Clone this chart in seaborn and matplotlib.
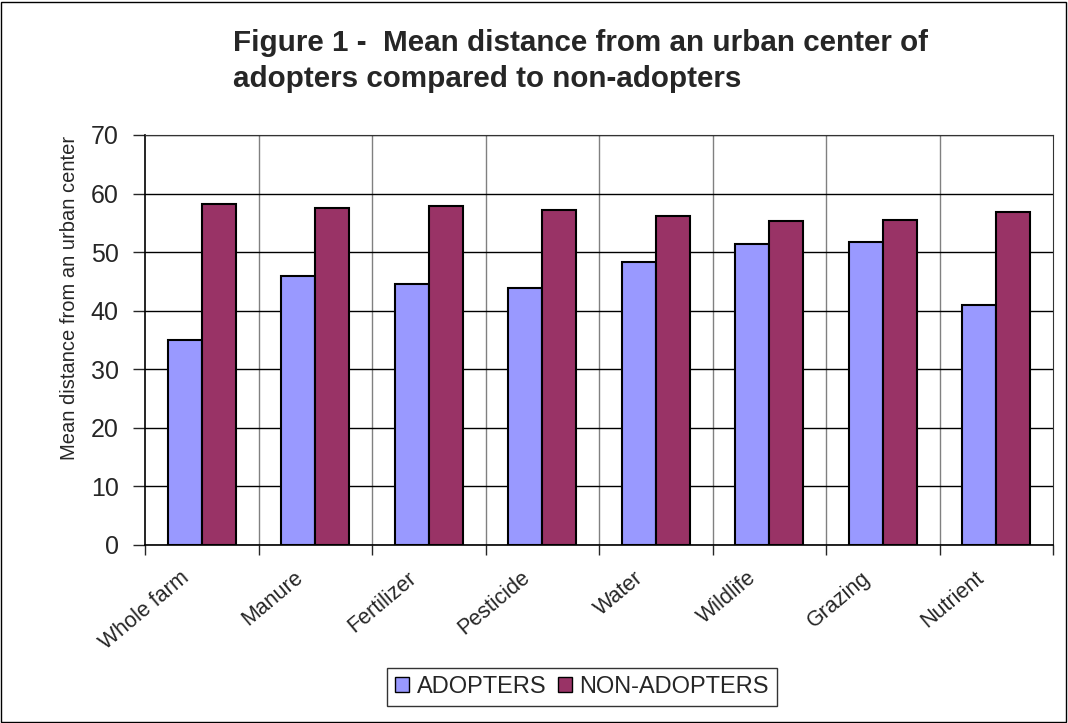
import pandas as pd
import numpy as np
import matplotlib.pyplot as plt
import seaborn as sns
from matplotlib.patches import Rectangle
import matplotlib.transforms as mtransforms

# Datos
categorias = ['Whole farm', 'Manure', 'Fertilizer', 'Pesticide', 'Water', 'Wildlife', 'Grazing', 'Nutrient']
adopters = [35.0, 46.0, 44.6, 43.9, 48.4, 51.4, 51.8, 40.9]
non_adopters = [58.3, 57.6, 57.9, 57.25, 56.2, 55.3, 55.5, 56.9]
series = ['ADOPTERS', 'NON-ADOPTERS']
colores = ['#9999FF', '#993366']

df = pd.DataFrame({
    'categoria': categorias * 2,
    'valor': adopters + non_adopters,
    'serie': [series[0]] * len(categorias) + [series[1]] * len(categorias),
})

sns.set_style('white')
plt.rcParams['font.family'] = ['Liberation Sans', 'DejaVu Sans']

fig = plt.figure(figsize=(10.68, 7.23), dpi=100)
ax = fig.add_axes([145 / 1068, 1 - 545 / 723, (1053 - 145) / 1068, (545 - 135) / 723])

sns.barplot(data=df, x='categoria', y='valor', hue='serie', palette=colores,
            width=0.6, edgecolor='black', linewidth=1.5, saturation=1, ax=ax)

ax.set_ylim(0, 70)
ax.set_xlim(-0.5, len(categorias) - 0.5)
ax.set_yticks(range(0, 71, 10))
ax.tick_params(axis='y', labelsize=18, length=9, width=1, direction='out', left=True, pad=10)
ax.yaxis.grid(True, color='black', linewidth=1)

# Lineas verticales en los limites de categoria (estilo Excel)
limites = np.arange(0.5, len(categorias) - 0.5, 1)
for b in limites:
    ax.axvline(b, color='#808080', linewidth=1, zorder=0)
ax.set_axisbelow(True)

ax.set_xticks(np.arange(-0.5, len(categorias), 1), minor=False)
ax.set_xticklabels([])
ax.set_xticks(range(len(categorias)), minor=True)
ax.set_xticklabels(categorias, minor=True, rotation=40, ha='right', va='top',
                   rotation_mode='anchor', fontsize=15.5)
ax.tick_params(axis='x', which='major', length=7, width=1, direction='out', bottom=True)
ax.tick_params(axis='x', which='minor', length=0, pad=16)
offset = mtransforms.ScaledTranslation(-22 / 100, 0, fig.dpi_scale_trans)
for lab in ax.get_xticklabels(minor=True):
    lab.set_transform(lab.get_transform() + offset)

ax.set_xlabel('')
ax.set_ylabel('Mean distance from an urban center', fontsize=14.5)
ax.yaxis.set_label_coords(-0.073, (545 - 298) / 410)

ax.spines['top'].set_color('#333333')
ax.spines['right'].set_color('#333333')
for s in ['left', 'bottom']:
    ax.spines[s].set_color('black')
    ax.spines[s].set_linewidth(1.2)

leg = ax.legend(loc='center', bbox_to_anchor=(582 / 1068, 1 - 687 / 723), bbox_transform=fig.transFigure,
                ncol=2, fontsize=17, frameon=True, fancybox=False, handlelength=0.6, handleheight=0.6,
                handletextpad=0.3, columnspacing=0.5, borderpad=0.35)
leg.get_frame().set_edgecolor('black')
leg.get_frame().set_linewidth(1)
for h in leg.legend_handles:
    h.set_linewidth(1)

fig.text(233 / 1068, 1 - 61 / 723, 'Figure 1 -  Mean distance from an urban center of\nadopters compared to non-adopters',
         fontsize=21.3, fontweight='bold', ha='left', va='center', linespacing=1.38)

fig.patches.append(Rectangle((1 / 1068, 1 / 723), 1 - 3 / 1068, 1 - 3 / 723, transform=fig.transFigure,
                             fill=False, edgecolor='black', linewidth=1))

fig.savefig('out.png', dpi=100)
